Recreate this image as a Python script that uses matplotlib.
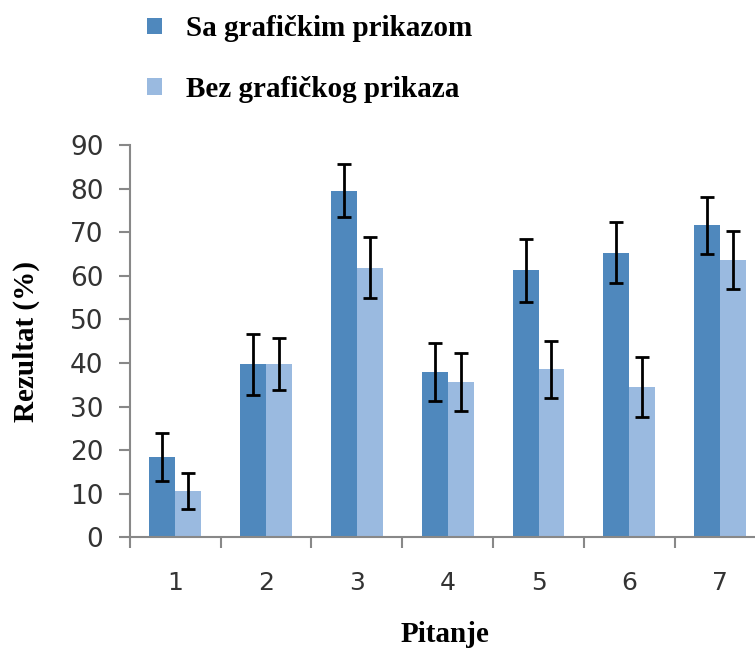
import matplotlib.pyplot as plt
import numpy as np

questions = ['1', '2', '3', '4', '5', '6', '7']
sa_grafickim = [18.5, 39.7, 79.5, 37.9, 61.3, 65.3, 71.6]
sa_err = [5.5, 7.0, 6.1, 6.7, 7.2, 7.0, 6.6]
bez_grafickog = [10.6, 39.7, 61.9, 35.6, 38.5, 34.5, 63.6]
bez_err = [4.2, 6.0, 7.0, 6.6, 6.6, 6.8, 6.6]

dark = '#4F88BD'
light = '#9ABAE0'

fig = plt.figure(figsize=(7.55, 6.48), dpi=100)
ax = fig.add_axes([0.172, 0.171, 0.842, 0.605])

x = np.arange(1, len(questions) + 1)
w = 0.285
ax.bar(x - w / 2, sa_grafickim, w, color=dark, label='Sa grafičkim prikazom')
ax.bar(x + w / 2, bez_grafickog, w, color=light, label='Bez grafičkog prikaza')
ax.errorbar(x - w / 2, sa_grafickim, yerr=sa_err, fmt='none', ecolor='black',
            elinewidth=2, capsize=5, capthick=2)
ax.errorbar(x + w / 2, bez_grafickog, yerr=bez_err, fmt='none', ecolor='black',
            elinewidth=2, capsize=5, capthick=2)

ax.set_xlim(0.5, 7.5)
ax.set_ylim(0, 90)
ax.set_yticks(range(0, 91, 10))
ax.set_xticks(x)
ax.set_xticklabels(questions)
ax.set_xticks(np.arange(0.5, 7.6, 1), minor=True)
ax.tick_params(axis='x', which='major', length=0, pad=24, labelsize=18, labelcolor='#333333')
ax.tick_params(axis='x', which='minor', length=8, width=1.5, color='#888888', direction='out')
ax.tick_params(axis='y', length=8, width=1.5, color='#888888', labelsize=19,
               labelcolor='#333333', pad=11)

for s in ['top', 'right']:
    ax.spines[s].set_visible(False)
for s in ['left', 'bottom']:
    ax.spines[s].set_color('#888888')
    ax.spines[s].set_linewidth(1.5)

serif = {'family': 'Liberation Serif', 'weight': 'bold', 'size': 21}
ax.set_ylabel('Rezultat (%)', fontdict=serif)
ax.yaxis.set_label_coords(-0.142, 0.5)
fig.text(0.59, 0.01, 'Pitanje', fontdict=serif, ha='center')

fig.legend(loc='upper left', bbox_to_anchor=(0.16, 1.017), frameon=False,
           prop={'family': 'Liberation Serif', 'weight': 'bold', 'size': 21},
           handlelength=0.5, handleheight=0.5, labelspacing=1.15, handletextpad=0.82)

fig.savefig('out.png', dpi=100)
